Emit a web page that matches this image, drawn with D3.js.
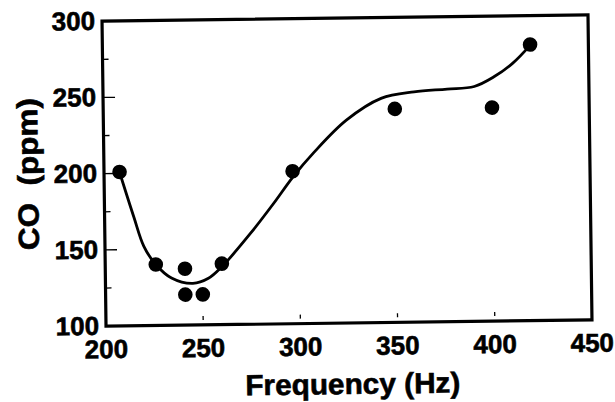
<!DOCTYPE html>
<html><head><meta charset="utf-8">
<script src="https://cdn.jsdelivr.net/npm/d3@7/dist/d3.min.js"></script>
<style>body{margin:0;background:#fff}svg{display:block}</style>
</head><body>
<svg id="c" width="615" height="402"></svg>
<script>
const freq = [208, 226, 241, 241, 250, 260, 297, 350, 400, 420];
const co   = [201, 140, 137, 120, 120, 140, 200, 240, 240, 281];
const fitFreq = [208, 215, 220, 226, 234, 245, 253, 260, 275, 287, 297, 308, 325, 343, 360, 377, 391, 401, 411, 420];
const fitCO   = [200.8, 171.5, 152, 140, 131, 127.3, 130.5, 138, 159.7, 179, 196, 212, 233, 247, 251, 252.5, 254, 260, 269, 280.5];
const xTicks = [200, 250, 300, 350, 400, 450];
const yTicks = [100, 150, 200, 250, 300];
const yMinor = [125, 175, 225, 275];

const svg = d3.select("#c");
const L = 104, R = 590, T = 18, B = 323;
const x = d3.scaleLinear().domain([200, 450]).range([L, R]);
const y = d3.scaleLinear().domain([100, 300]).range([B, T]);
const font = "'Liberation Sans', Arial, sans-serif";

const g = svg.append("g").attr("transform", "rotate(-0.75 347 170)");

// y ticks (inward)
g.append("g").selectAll("line").data(yMinor).join("line")
  .attr("x1", L).attr("x2", L + 6).attr("y1", d => y(d)).attr("y2", d => y(d))
  .attr("stroke", "#000").attr("stroke-width", 1.3);
g.append("g").selectAll("line").data(yTicks.slice(1, -1)).join("line")
  .attr("x1", L).attr("x2", L + 12).attr("y1", d => y(d)).attr("y2", d => y(d))
  .attr("stroke", "#000").attr("stroke-width", 1.3);
// x ticks (faint, inward)
g.append("g").selectAll("line").data(xTicks.slice(1, -1)).join("line")
  .attr("x1", d => x(d)).attr("x2", d => x(d)).attr("y1", B - 5).attr("y2", B - 9)
  .attr("stroke", "#000").attr("stroke-width", 1.3);

// frame
g.append("rect").attr("x", L).attr("y", T).attr("width", R - L).attr("height", B - T)
  .attr("fill", "none").attr("stroke", "#000").attr("stroke-width", 3.2);

const bold = sel => sel.attr("font-family", font).attr("font-weight", "bold")
  .attr("fill", "#000").attr("stroke", "#000").attr("stroke-width", 0.6);

// y labels
g.append("g").selectAll("text").data(yTicks).join("text")
  .attr("x", L - 7).attr("y", d => y(d)).attr("dy", "0.33em")
  .attr("text-anchor", "end").attr("font-size", 26).call(bold).text(d => d);
// x labels
g.append("g").selectAll("text").data(xTicks).join("text")
  .attr("x", d => x(d)).attr("y", B + 32)
  .attr("text-anchor", "middle").attr("font-size", 26).call(bold).text(d => d);

// fit curve
const fit = fitFreq.map((f, i) => [f, fitCO[i]]);
g.append("path").datum(fit)
  .attr("d", d3.line().x(d => x(d[0])).y(d => y(d[1])).curve(d3.curveCatmullRom.alpha(0.5)))
  .attr("fill", "none").attr("stroke", "#000").attr("stroke-width", 2.8);

// points
g.append("g").selectAll("circle").data(freq.map((f, i) => [f, co[i]])).join("circle")
  .attr("cx", d => x(d[0])).attr("cy", d => y(d[1])).attr("r", 7.3).attr("fill", "#000");

// axis titles
g.append("text").attr("x", 350).attr("y", 394).attr("text-anchor", "middle")
  .attr("font-size", 29).call(bold)
  .attr("textLength", 215).attr("lengthAdjust", "spacingAndGlyphs").text("Frequency (Hz)");
g.append("text").attr("transform", "translate(38,170) rotate(-90)").attr("text-anchor", "middle")
  .attr("font-size", 29).call(bold)
  .attr("textLength", 152).attr("lengthAdjust", "spacingAndGlyphs")
  .style("white-space", "pre").text("CO  (ppm)");
</script>
</body></html>
